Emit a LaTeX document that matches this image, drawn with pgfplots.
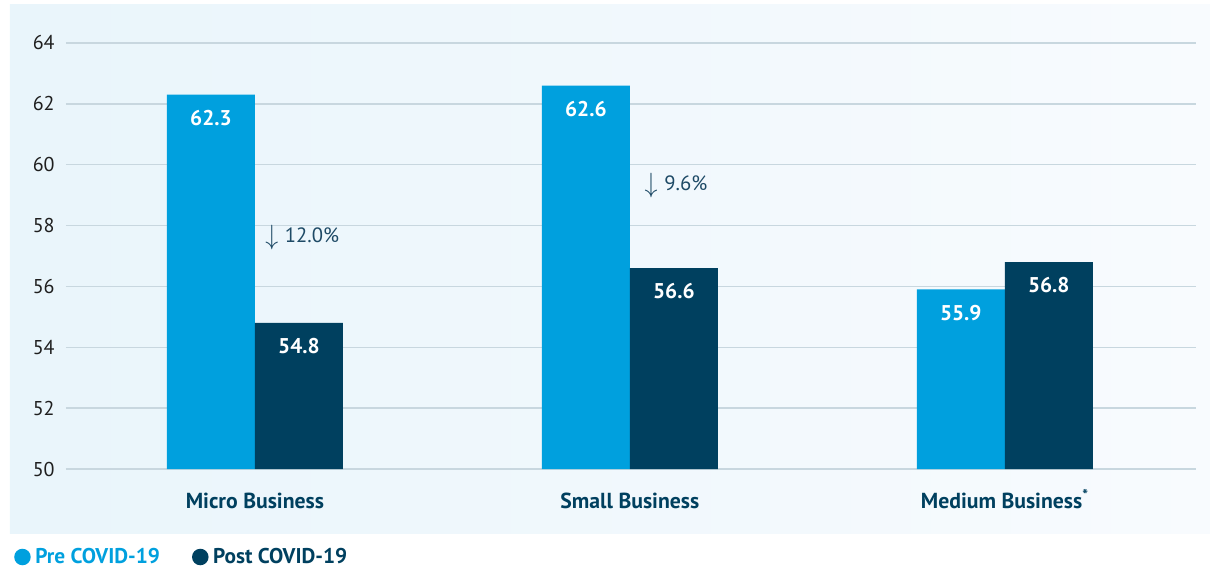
\documentclass[border=0pt]{standalone}
\usepackage{pgfplots}
\pgfplotsset{compat=1.18}
\usepackage{graphicx}
\usepackage{fontspec}
\setmainfont{PT Sans}
\definecolor{preblue}{HTML}{00A0DE}
\definecolor{navy}{HTML}{00405F}
\definecolor{gridc}{HTML}{C8D7DF}
\definecolor{annot}{HTML}{1E4A66}
\definecolor{bgl}{HTML}{E9F5FB}
\definecolor{bgr}{HTML}{F8FBFE}
\begin{document}
\begin{tikzpicture}
\useasboundingbox (-49.5pt,-76.5pt) rectangle (858pt,351.75pt);
\shade[left color=bgl, right color=bgr] (-42pt,-48pt) rectangle (858pt,348pt);
\begin{axis}[
  at={(0pt,0pt)}, anchor=south west, scale only axis,
  width=847.5pt, height=319.5pt,
  ybar=0pt, bar width=66pt,
  xmin=-0.504, xmax=2.51, ymin=50, ymax=64,
  xtick={0,1,2},
  xticklabels={Micro Business, Small Business, Medium Business\textsuperscript{*}},
  ytick={50,52,...,64},
  /pgf/number format/assume math mode=true,
  axis line style={draw=none},
  major tick length=0pt,
  ymajorgrids, grid style={gridc, line width=1pt},
  yticklabel style={font=\fontsize{15}{18}\selectfont, color=black!88, xshift=-5pt},
  xticklabel style={font=\bfseries\fontsize{16.3}{19}\selectfont, color=navy, yshift=-14pt, text height=12pt, text depth=3pt},
  nodes near coords,
  nodes near coords style={anchor=north, yshift=-8pt, white, font=\bfseries\fontsize{16}{19}\selectfont},
  legend style={at={(-0.0496,-0.2066)}, anchor=west, draw=none, fill=none,
    font=\bfseries\fontsize{16}{19}\selectfont,
    /tikz/every even column/.append style={column sep=22pt}},
  legend columns=2,
  legend cell align=left,
]
\addplot[fill=preblue, draw=none, legend image code/.code={\fill[preblue] (3pt,0pt) circle (6.2pt);}]
  coordinates {(0,62.3) (1,62.6) (2,55.9)};
\addlegendentry{\hspace{1.5pt}\textcolor{preblue}{Pre COVID-19}}
\addplot[fill=navy, draw=none, legend image code/.code={\fill[navy] (3pt,0pt) circle (6.2pt);}]
  coordinates {(0,54.8) (1,56.6) (2,56.8)};
\addlegendentry{\hspace{1.5pt}\textcolor{navy}{Post COVID-19}}
\node[anchor=west, annot, font=\fontsize{15.5}{18}\selectfont] at (axis cs:0.015,57.62) {\raisebox{-1.5pt}{\scalebox{1.35}[1.45]{$\downarrow$}}\hspace{5pt}12.0\%};
\node[anchor=west, annot, font=\fontsize{15.5}{18}\selectfont] at (axis cs:1.027,59.3) {\raisebox{-1.5pt}{\scalebox{1.35}[1.45]{$\downarrow$}}\hspace{5pt}9.6\%};
\end{axis}
\end{tikzpicture}
\end{document}
